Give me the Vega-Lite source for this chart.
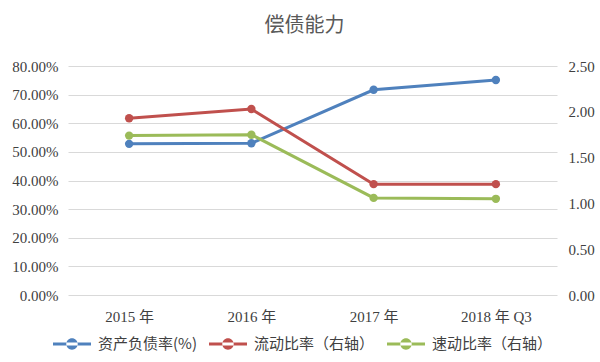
{
  "$schema": "https://vega.github.io/schema/vega-lite/v6.json",
  "autosize": "none",
  "width": 489,
  "height": 229,
  "padding": {"left": 68, "top": 66, "right": 43, "bottom": 67},
  "background": "white",
  "title": {
    "text": "偿债能力",
    "font": "Noto Sans CJK SC",
    "fontSize": 20,
    "fontWeight": "normal",
    "color": "#595959",
    "anchor": "middle",
    "offset": 23,
    "dx": -8
  },
  "config": {
    "view": {"stroke": null},
    "axis": {
      "labelFont": "Liberation Serif",
      "labelFontSize": 15,
      "labelColor": "#404040",
      "domain": false,
      "ticks": false,
      "gridColor": "#d9d9d9",
      "gridWidth": 1
    }
  },
  "data": {
    "values": [
      {"year": "2015 年", "series": "资产负债率(%)", "value": 0.528},
      {"year": "2016 年", "series": "资产负债率(%)", "value": 0.530},
      {"year": "2017 年", "series": "资产负债率(%)", "value": 0.717},
      {"year": "2018 年 Q3", "series": "资产负债率(%)", "value": 0.751},
      {"year": "2015 年", "series": "流动比率（右轴）", "value": 1.93},
      {"year": "2016 年", "series": "流动比率（右轴）", "value": 2.03},
      {"year": "2017 年", "series": "流动比率（右轴）", "value": 1.21},
      {"year": "2018 年 Q3", "series": "流动比率（右轴）", "value": 1.21},
      {"year": "2015 年", "series": "速动比率（右轴）", "value": 1.74},
      {"year": "2016 年", "series": "速动比率（右轴）", "value": 1.75},
      {"year": "2017 年", "series": "速动比率（右轴）", "value": 1.06},
      {"year": "2018 年 Q3", "series": "速动比率（右轴）", "value": 1.05}
    ]
  },
  "encoding": {
    "x": {
      "field": "year",
      "type": "nominal",
      "sort": null,
      "scale": {"type": "point", "padding": 0.5},
      "axis": {
        "title": null,
        "labelAngle": 0,
        "labelPadding": 14,
        "grid": false,
        "labelFont": "Liberation Serif, Noto Sans CJK SC"
      }
    },
    "color": {
      "field": "series",
      "type": "nominal",
      "scale": {
        "domain": ["资产负债率(%)", "流动比率（右轴）", "速动比率（右轴）"],
        "range": ["#4F81BD", "#C0504D", "#9BBB59"]
      },
      "legend": {
        "title": null,
        "orient": "none",
        "direction": "horizontal",
        "legendX": -15,
        "legendY": 259,
        "symbolType": "M-1,-0.08H1V0.08H-1Z M-0.3,0A0.3,0.3 0 1,0 0.3,0A0.3,0.3 0 1,0 -0.3,0Z",
        "symbolSize": 1444,
        "symbolStrokeWidth": 0,
        "symbolOpacity": 1,
        "labelFont": "Noto Sans CJK SC",
        "labelFontSize": 15,
        "labelColor": "#404040",
        "labelOffset": 7,
        "columnPadding": 12,
        "labelLimit": 300
      }
    }
  },
  "layer": [
    {
      "transform": [{"filter": "datum.series === '资产负债率(%)'"}],
      "mark": {"type": "line", "strokeWidth": 3, "point": {"filled": true, "size": 70}},
      "encoding": {
        "y": {
          "field": "value",
          "type": "quantitative",
          "scale": {"domain": [0, 0.8], "nice": false},
          "axis": {
            "title": null,
            "values": [0, 0.1, 0.2, 0.3, 0.4, 0.5, 0.6, 0.7, 0.8],
            "format": ".2%",
            "labelPadding": 10,
            "grid": true
          }
        }
      }
    },
    {
      "transform": [{"filter": "datum.series !== '资产负债率(%)'"}],
      "mark": {"type": "line", "strokeWidth": 3, "point": {"filled": true, "size": 70}},
      "encoding": {
        "y": {
          "field": "value",
          "type": "quantitative",
          "scale": {"domain": [0, 2.5], "nice": false},
          "axis": {
            "title": null,
            "orient": "right",
            "values": [0, 0.5, 1, 1.5, 2, 2.5],
            "format": ".2f",
            "labelPadding": 11,
            "grid": false
          }
        }
      }
    }
  ],
  "resolve": {"scale": {"y": "independent"}}
}
